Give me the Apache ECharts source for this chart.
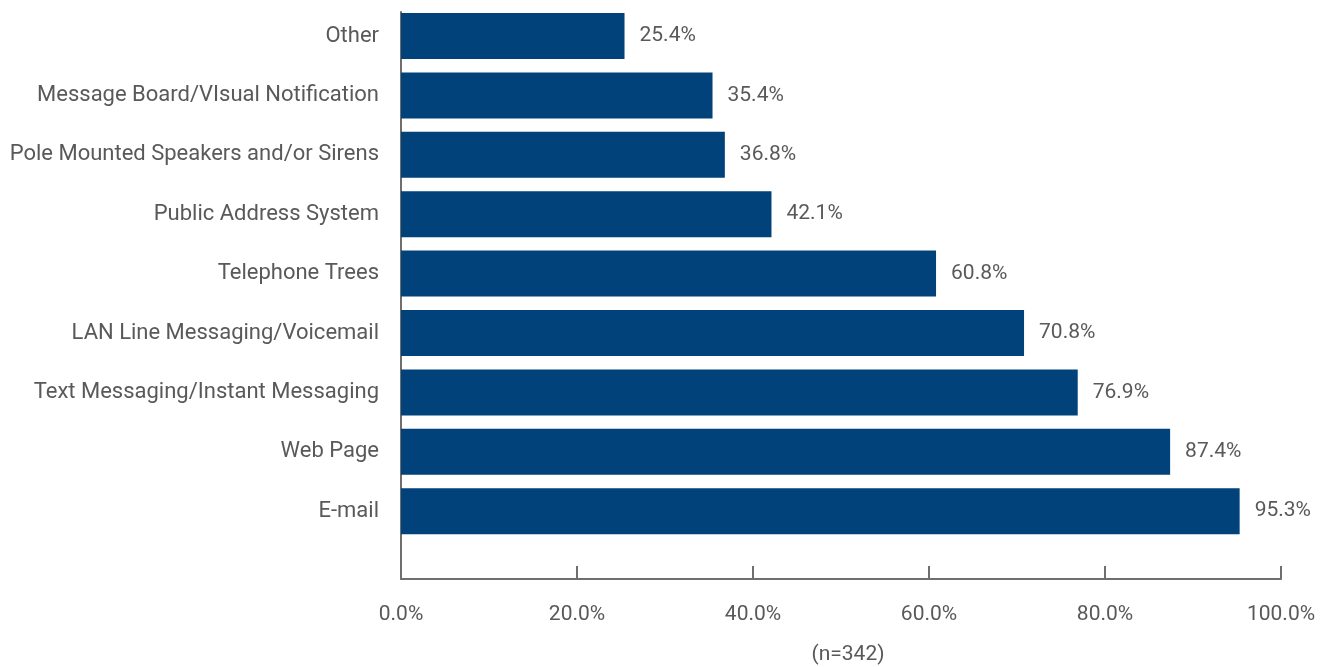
<!DOCTYPE html>
<html>
<head>
<meta charset="utf-8">
<script src="https://cdn.jsdelivr.net/npm/echarts@6/dist/echarts.min.js"></script>
<style>
  html, body { margin: 0; padding: 0; background: #ffffff; }
  #chart { width: 1325px; height: 667px; }
</style>
</head>
<body>
<div id="chart"></div>
<script>
// Notification methods, top to bottom
const categories = [
  'Other',
  'Message Board/VIsual Notification',
  'Pole Mounted Speakers and/or Sirens',
  'Public Address System',
  'Telephone Trees',
  'LAN Line Messaging/Voicemail',
  'Text Messaging/Instant Messaging',
  'Web Page',
  'E-mail'
];
const shares = [25.4, 35.4, 36.8, 42.1, 60.8, 70.8, 76.9, 87.4, 95.3];
const axisMin = 0;
const axisMax = 100;
const axisStep = 20;
const sampleNote = '(n=342)';

const FONT = "'Liberation Sans Narrow', Roboto, sans-serif";
const TEXT = '#595959';
const AXIS = '#6f6f6f';
const BAR = '#01427a';

const chart = echarts.init(document.getElementById('chart'), null, { renderer: 'canvas' });

chart.setOption({
  animation: false,
  backgroundColor: '#ffffff',
  grid: [
    // bars
    { left: 401, right: 44, top: 6.3, height: 534.6, containLabel: false, outerBoundsMode: 'none' },
    // frame axes
    { left: 401, right: 44, top: 12, bottom: 88, containLabel: false, outerBoundsMode: 'none' }
  ],
  xAxis: [
    {
      gridIndex: 0, type: 'value', min: axisMin, max: axisMax, interval: axisStep,
      show: false
    },
    {
      gridIndex: 1, type: 'value', min: axisMin, max: axisMax, interval: axisStep,
      axisLine: { show: true, lineStyle: { color: AXIS, width: 2 } },
      axisTick: { show: true, inside: true, length: 13, lineStyle: { color: AXIS, width: 2 } },
      splitLine: { show: false },
      axisLabel: {
        color: TEXT, fontFamily: FONT, fontSize: 21, margin: 25,
        formatter: v => v.toFixed(1) + '%'
      },
      name: sampleNote,
      nameLocation: 'middle',
      nameGap: 65,
      nameTextStyle: { color: TEXT, fontFamily: FONT, fontSize: 21, padding: [0, 0, 0, 14] }
    }
  ],
  yAxis: [
    {
      gridIndex: 0, type: 'category', data: categories, inverse: true,
      axisLine: { show: false },
      axisTick: { show: false },
      axisLabel: { color: TEXT, fontFamily: FONT, fontSize: 22, margin: 22, padding: [3, 0, 0, 0] }
    },
    {
      gridIndex: 1, type: 'value', min: 0, max: 1,
      axisLine: { show: true, lineStyle: { color: AXIS, width: 2 } },
      axisTick: { show: false },
      axisLabel: { show: false },
      splitLine: { show: false }
    }
  ],
  series: [
    {
      type: 'bar',
      xAxisIndex: 0,
      yAxisIndex: 0,
      data: shares,
      barWidth: 46,
      itemStyle: { color: BAR },
      label: {
        show: true,
        position: 'right',
        distance: 15,
        color: TEXT,
        fontFamily: FONT,
        fontSize: 21,
        padding: [2, 0, 0, 0],
        formatter: p => p.value.toFixed(1) + '%'
      }
    }
  ]
});
</script>
</body>
</html>
